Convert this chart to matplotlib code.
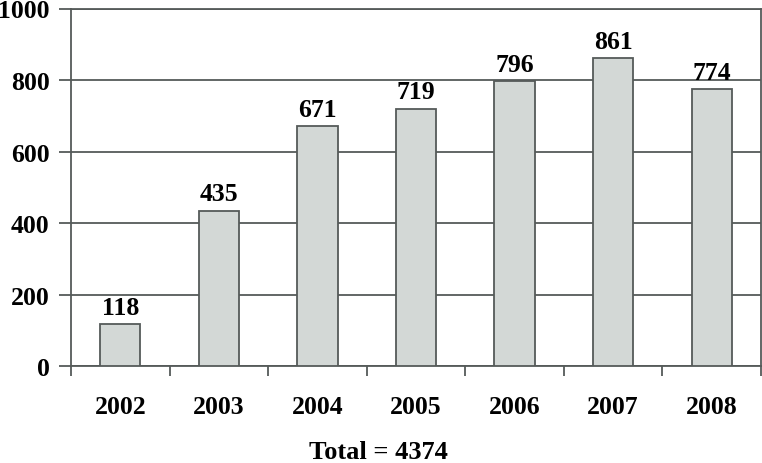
import matplotlib
matplotlib.use("Agg")
import matplotlib.pyplot as plt
import numpy as np

years = ["2002", "2003", "2004", "2005", "2006", "2007", "2008"]
counts = [118, 435, 671, 719, 796, 861, 774]
yticks = [0, 200, 400, 600, 800, 1000]
total_label = "Total = 4374"

plt.rcParams['font.family'] = ['Liberation Serif', 'DejaVu Serif']
plt.rcParams['font.weight'] = 'bold'

fig = plt.figure(figsize=(7.62, 4.64), dpi=100)
ax = fig.add_axes([71/762, 1 - 367.3/464, 690/762, (367.3 - 9.5)/464])

grid_col = '#555a59'
x = np.arange(len(years))
bars = ax.bar(x, counts, width=0.41, color='#d3d8d6', edgecolor=grid_col, linewidth=1.3, zorder=3)

ax.set_xlim(-0.5, len(years) - 0.5)
ax.set_ylim(0, 1000)
ax.set_yticks(yticks)
ax.set_yticklabels([str(v) for v in yticks], fontsize=18.5, fontweight='bold')
ax.yaxis.grid(True, color=grid_col, linewidth=1.3, zorder=0)
ax.set_axisbelow(True)

# category ticks at boundaries, labels at centers
ax.set_xticks(np.arange(len(years) + 1) - 0.5)
ax.set_xticklabels([])
ax.set_xticks(x, minor=True)
ax.set_xticklabels(years, minor=True, fontsize=18.5, fontweight='bold')
ax.tick_params(axis='x', which='minor', length=0, pad=21)
ax.tick_params(axis='x', which='major', length=7, width=1.3, color=grid_col, direction='out')
ax.tick_params(axis='y', length=9, width=1.3, color=grid_col, direction='out', pad=6.5)

for s in ax.spines.values():
    s.set_color(grid_col)
    s.set_linewidth(1.3)

for xi, v in zip(x, counts):
    ax.annotate(str(v), (xi, v), xytext=(0, 4), textcoords='offset points',
                ha='center', va='bottom', fontsize=18.5, fontweight='bold')

fig.text(378/762, 1 - 453/464, total_label, ha='center', va='center', fontsize=19, fontweight='bold')

fig.savefig("out.png", dpi=100)
